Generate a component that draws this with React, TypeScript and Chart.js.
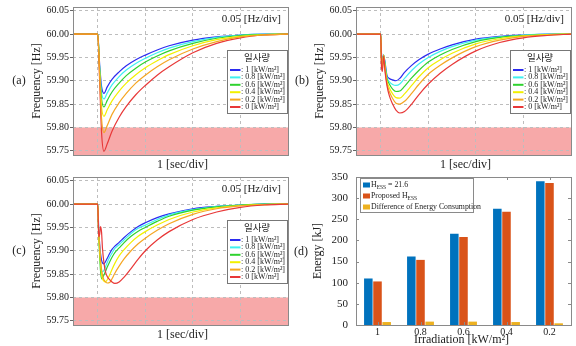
import React, { useEffect, useRef } from 'react';
import { Chart, registerables } from 'chart.js';
Chart.register(...registerables);

const W = 576;
const H = 346;
const SERIF = '"Liberation Serif", "Times New Roman", serif';
const KR = '"Noto Sans CJK KR", "Noto Sans", sans-serif';
const TEXT = '#222222';

// ---------- frequency panels ----------
const LEGEND_TITLE = '일사량';
const IRR_LABELS = [': 1 [kW/m²]', ': 0.8 [kW/m²]', ': 0.6 [kW/m²]', ': 0.4 [kW/m²]', ': 0.2 [kW/m²]', ': 0 [kW/m²]'];
const LINE_COLORS = ['#2b2bf0', '#3ff0f0', '#2fd22f', '#f2f000', '#f5a623', '#e83838'];
const Y_TICKS = [59.75, 59.8, 59.85, 59.9, 59.95, 60.0, 60.05];
const X_GRID = [0, 1, 2, 3, 4];
const BAND_LIMIT = 59.8;
const SCALE_NOTE = '0.05 [Hz/div]';
const X_TITLE = '1 [sec/div]';
const Y_TITLE = 'Frequency [Hz]';

const TIMES_A = [-0.55, 0, 0.04, 0.08, 0.13, 0.2, 0.3, 0.45, 0.6, 0.8, 1.0, 1.25, 1.5, 2.0, 2.5, 3.0, 3.5, 4.0];
const A_1 = [60, 60, 59.935, 59.888, 59.873, 59.887, 59.903, 59.919, 59.932, 59.945, 59.955, 59.966, 59.975, 59.987, 59.994, 59.998, 60, 60];
const A_08 = [60, 60, 59.93, 59.876, 59.861, 59.874, 59.891, 59.909, 59.923, 59.937, 59.948, 59.96, 59.97, 59.984, 59.993, 59.998, 60, 60];
const A_06 = [60, 60, 59.925, 59.862, 59.844, 59.858, 59.876, 59.895, 59.911, 59.927, 59.94, 59.953, 59.964, 59.98, 59.991, 59.997, 59.999, 60];
const A_04 = [60, 60, 59.92, 59.845, 59.824, 59.838, 59.857, 59.878, 59.895, 59.913, 59.928, 59.943, 59.956, 59.975, 59.988, 59.995, 59.999, 60];
const A_02 = [60, 60, 59.91, 59.82, 59.789, 59.804, 59.828, 59.853, 59.873, 59.895, 59.912, 59.93, 59.945, 59.968, 59.984, 59.994, 59.998, 60];
const A_0 = [60, 60, 59.9, 59.79, 59.749, 59.765, 59.792, 59.822, 59.845, 59.87, 59.89, 59.912, 59.93, 59.96, 59.98, 59.992, 59.998, 60];

const TIMES_B = [-0.55, 0, 0.015, 0.035, 0.06, 0.09, 0.13, 0.18, 0.25, 0.32, 0.4, 0.5, 0.65, 0.8, 1.0, 1.25, 1.5, 2.0, 2.5, 3.0, 3.5, 4.0];
const B_1 = [60, 60, 59.96, 59.945, 59.955, 59.94, 59.912, 59.905, 59.902, 59.9, 59.905, 59.918, 59.933, 59.945, 59.957, 59.968, 59.977, 59.989, 59.995, 59.998, 60, 60];
const B_08 = [60, 60, 59.955, 59.94, 59.955, 59.936, 59.908, 59.898, 59.892, 59.89, 59.893, 59.905, 59.922, 59.936, 59.95, 59.963, 59.973, 59.987, 59.994, 59.998, 60, 60];
const B_06 = [60, 60, 59.95, 59.935, 59.955, 59.933, 59.905, 59.893, 59.882, 59.877, 59.878, 59.888, 59.906, 59.922, 59.94, 59.955, 59.967, 59.984, 59.993, 59.997, 59.999, 60];
const B_04 = [60, 60, 59.945, 59.93, 59.955, 59.93, 59.9, 59.885, 59.872, 59.864, 59.863, 59.872, 59.89, 59.908, 59.928, 59.945, 59.959, 59.979, 59.99, 59.996, 59.999, 60];
const B_02 = [60, 60, 59.94, 59.925, 59.955, 59.925, 59.895, 59.877, 59.862, 59.852, 59.85, 59.856, 59.873, 59.892, 59.914, 59.933, 59.949, 59.973, 59.987, 59.995, 59.998, 60];
const B_0 = [60, 60, 59.93, 59.92, 59.953, 59.92, 59.89, 59.868, 59.85, 59.837, 59.831, 59.834, 59.85, 59.87, 59.893, 59.916, 59.935, 59.964, 59.982, 59.992, 59.997, 60];

const TIMES_C = [-0.55, 0, 0.02, 0.04, 0.06, 0.08, 0.1, 0.13, 0.16, 0.2, 0.25, 0.3, 0.36, 0.45, 0.55, 0.7, 0.85, 1.0, 1.25, 1.5, 2.0, 2.5, 3.0, 3.5, 4.0];
const C_1 = [60, 60, 59.95, 59.915, 59.893, 59.88, 59.874, 59.872, 59.876, 59.884, 59.894, 59.903, 59.91, 59.918, 59.928, 59.941, 59.952, 59.96, 59.971, 59.979, 59.99, 59.995, 59.998, 60, 60];
const C_08 = [60, 60, 59.94, 59.9, 59.872, 59.858, 59.855, 59.858, 59.865, 59.875, 59.886, 59.895, 59.905, 59.913, 59.923, 59.937, 59.948, 59.955, 59.967, 59.977, 59.988, 59.995, 59.998, 60, 60];
const C_06 = [60, 60, 59.935, 59.89, 59.855, 59.84, 59.842, 59.848, 59.855, 59.865, 59.876, 59.886, 59.896, 59.906, 59.917, 59.931, 59.942, 59.95, 59.963, 59.974, 59.987, 59.994, 59.998, 60, 60];
const C_04 = [60, 60, 59.935, 59.9, 59.87, 59.85, 59.84, 59.835, 59.833, 59.838, 59.848, 59.86, 59.873, 59.889, 59.902, 59.918, 59.931, 59.941, 59.955, 59.967, 59.983, 59.992, 59.997, 59.999, 60];
const C_02 = [60, 60, 59.94, 59.91, 59.88, 59.86, 59.848, 59.838, 59.834, 59.831, 59.832, 59.84, 59.852, 59.867, 59.882, 59.9, 59.915, 59.927, 59.944, 59.958, 59.978, 59.99, 59.996, 59.999, 60];
const C_0 = [60, 60, 59.93, 59.935, 59.952, 59.94, 59.905, 59.875, 59.856, 59.845, 59.838, 59.833, 59.83, 59.833, 59.843, 59.862, 59.882, 59.9, 59.923, 59.941, 59.967, 59.983, 59.993, 59.998, 60];

// ---------- energy panel ----------
const IRR_CATS = ['1', '0.8', '0.6', '0.4', '0.2'];
const ENERGY_FIXED = [110, 162, 216, 275, 340];
const ENERGY_PROPOSED = [103, 154, 208, 268, 336];
const ENERGY_DIFF = [7, 8, 8, 7, 4];
const ENERGY_COLORS = ['#0072BD', '#D95319', '#EDB120'];
const ENERGY_TICKS = [0, 50, 100, 150, 200, 250, 300, 350];
// legend entries: [text, isSubscript]
const ENERGY_LEGEND: [string, boolean][][] = [
  [['H', false], ['ESS', true], [' = 21.6', false]],
  [['Proposed H', false], ['ESS', true]],
  [['Difference of Energy Consumption', false]],
];
const ENERGY_Y_TITLE = 'Energy [kJ]';
const ENERGY_X_TITLE = 'Irradiation [kW/m²]';

// ---------- layout ----------
const PANELS = [
  { label: '(a)', times: TIMES_A, series: [A_1, A_08, A_06, A_04, A_02, A_0], order: [6, 5, 4, 3, 1, 2], area: { left: 73, top: 7, right: 288, bottom: 155 } },
  { label: '(b)', times: TIMES_B, series: [B_1, B_08, B_06, B_04, B_02, B_0], order: [6, 5, 4, 3, 2, 1], area: { left: 356, top: 7, right: 571, bottom: 155 } },
  { label: '(c)', times: TIMES_C, series: [C_1, C_08, C_06, C_04, C_02, C_0], order: [6, 5, 4, 3, 2, 1], area: { left: 73, top: 177, right: 288, bottom: 325 } },
];
const ENERGY_AREA = { left: 356, top: 177, right: 571, bottom: 325 };
const Y_AXIS_W = 73;

function drawRotated(ctx: CanvasRenderingContext2D, text: string, x: number, y: number, font: string) {
  ctx.save();
  ctx.translate(x, y);
  ctx.rotate(-Math.PI / 2);
  ctx.font = font;
  ctx.fillStyle = TEXT;
  ctx.textAlign = 'center';
  ctx.textBaseline = 'middle';
  ctx.fillText(text, 0, 0);
  ctx.restore();
}

function drawCentered(ctx: CanvasRenderingContext2D, text: string, x: number, y: number, font: string, align: CanvasTextAlign = 'center') {
  ctx.save();
  ctx.font = font;
  ctx.fillStyle = TEXT;
  ctx.textAlign = align;
  ctx.textBaseline = 'middle';
  ctx.fillText(text, x, y);
  ctx.restore();
}

const freqDecor = {
  id: 'freqDecor',
  beforeDraw(chart: any) {
    const { ctx, chartArea: ca, scales } = chart;
    const yb = scales.y.getPixelForValue(BAND_LIMIT);
    ctx.save();
    ctx.fillStyle = '#F7A9A9';
    ctx.fillRect(ca.left, yb, ca.right - ca.left, ca.bottom - yb);
    ctx.restore();
  },
  afterDraw(chart: any, _args: any, opts: any) {
    const { ctx, chartArea: ca } = chart;
    ctx.save();
    ctx.strokeStyle = '#8a8a8a';
    ctx.lineWidth = 1;
    ctx.strokeRect(Math.round(ca.left) + 0.5, Math.round(ca.top) + 0.5, Math.round(ca.right - ca.left), Math.round(ca.bottom - ca.top));
    ctx.restore();

    const midY = (ca.top + ca.bottom) / 2;
    drawCentered(ctx, SCALE_NOTE, ca.right - 7, ca.top + 12, `11px ${SERIF}`, 'right');
    drawRotated(ctx, Y_TITLE, ca.left - 36, midY, `12px ${SERIF}`);
    drawCentered(ctx, opts.label, ca.left - 54, midY, `12px ${SERIF}`);
    drawCentered(ctx, X_TITLE, (ca.left + ca.right) / 2 + 2, ca.bottom + 10, `12px ${SERIF}`);

    // legend box
    const lx = Math.round(ca.right - 61);
    const ly = Math.round(ca.top + 43);
    const lw = 60;
    const lh = 63;
    ctx.save();
    ctx.fillStyle = '#ffffff';
    ctx.fillRect(lx, ly, lw, lh);
    ctx.strokeStyle = '#777777';
    ctx.lineWidth = 1;
    ctx.strokeRect(lx + 0.5, ly + 0.5, lw, lh);
    ctx.restore();
    drawCentered(ctx, LEGEND_TITLE, lx + lw / 2, ly + 7, `9.5px ${KR}`);
    IRR_LABELS.forEach((lab, i) => {
      const yy = ly + 20 + i * 7.4;
      ctx.save();
      ctx.strokeStyle = LINE_COLORS[i];
      ctx.lineWidth = 2;
      ctx.beginPath();
      ctx.moveTo(lx + 3, yy);
      ctx.lineTo(lx + 13.5, yy);
      ctx.stroke();
      ctx.restore();
      drawCentered(ctx, lab, lx + 14, yy, `8px ${SERIF}`, 'left');
    });
  },
};

function freqConfig(p: any): any {
  const datasets = p.series.map((vals: number[], i: number) => ({
    label: IRR_LABELS[i],
    data: p.times.map((t: number, k: number) => ({ x: t, y: vals[k] })),
    borderColor: LINE_COLORS[i],
    backgroundColor: LINE_COLORS[i],
    borderWidth: 1.2,
    pointRadius: 0,
    fill: false,
    cubicInterpolationMode: 'monotone',
    order: p.order[i],
  }));
  const a = p.area;
  return {
    type: 'line',
    data: { datasets },
    options: {
      animation: false,
      responsive: false,
      events: [],
      layout: { padding: { left: a.left - Y_AXIS_W, top: a.top, right: W - a.right, bottom: H - a.bottom - 15 } },
      plugins: { legend: { display: false }, tooltip: { enabled: false }, freqDecor: { label: p.label } },
      scales: {
        x: {
          type: 'linear',
          min: -0.52,
          max: 4,
          afterBuildTicks: (s: any) => { s.ticks = X_GRID.map((v) => ({ value: v })); },
          afterFit: (s: any) => { s.height = 15; },
          ticks: { display: false },
          grid: { color: '#bdbdbd', drawTicks: false },
          border: { display: false, dash: [3, 3] },
        },
        y: {
          type: 'linear',
          min: 59.741,
          max: 60.058,
          afterBuildTicks: (s: any) => { s.ticks = Y_TICKS.map((v) => ({ value: v })); },
          afterFit: (s: any) => { s.width = Y_AXIS_W; },
          ticks: { font: { family: SERIF, size: 10 }, color: TEXT, padding: 1, callback: (v: any) => Number(v).toFixed(2) },
          grid: { color: '#bdbdbd', tickLength: 3, tickColor: '#666', tickBorderDash: [] },
          border: { display: false, dash: [3, 3] },
        },
      },
    },
    plugins: [freqDecor],
  };
}

const energyDecor = {
  id: 'energyDecor',
  afterDraw(chart: any) {
    const { ctx, chartArea: ca, scales } = chart;
    ctx.save();
    ctx.strokeStyle = '#8a8a8a';
    ctx.lineWidth = 1;
    ctx.strokeRect(Math.round(ca.left) + 0.5, Math.round(ca.top) + 0.5, Math.round(ca.right - ca.left), Math.round(ca.bottom - ca.top));
    // inward ticks
    ctx.beginPath();
    ENERGY_TICKS.forEach((v) => {
      const y = Math.round(scales.y.getPixelForValue(v)) + 0.5;
      ctx.moveTo(ca.left, y); ctx.lineTo(ca.left + 3, y);
      ctx.moveTo(ca.right, y); ctx.lineTo(ca.right - 3, y);
    });
    IRR_CATS.forEach((_c, i) => {
      const x = Math.round(scales.x.getPixelForValue(i)) + 0.5;
      ctx.moveTo(x, ca.top); ctx.lineTo(x, ca.top + 3);
      ctx.moveTo(x, ca.bottom); ctx.lineTo(x, ca.bottom - 3);
    });
    ctx.stroke();
    ctx.restore();

    const midY = (ca.top + ca.bottom) / 2;
    drawRotated(ctx, ENERGY_Y_TITLE, ca.left - 38, midY, `12px ${SERIF}`);
    drawCentered(ctx, '(d)', ca.left - 55, midY + 1, `12px ${SERIF}`);
    drawCentered(ctx, ENERGY_X_TITLE, (ca.left + ca.right) / 2 - 2, ca.bottom + 15, `12px ${SERIF}`);

    // legend
    const lx = Math.round(ca.left + 4);
    const ly = Math.round(ca.top + 1);
    const lw = 113;
    const lh = 34;
    ctx.save();
    ctx.fillStyle = '#ffffff';
    ctx.fillRect(lx, ly, lw, lh);
    ctx.strokeStyle = '#8a8a8a';
    ctx.strokeRect(lx + 0.5, ly + 0.5, lw, lh);
    ctx.restore();
    ENERGY_LEGEND.forEach((parts, i) => {
      const yy = ly + 7 + i * 11;
      ctx.save();
      ctx.fillStyle = ENERGY_COLORS[i];
      ctx.fillRect(lx + 3, yy - 2.5, 7, 5);
      let x = lx + 11;
      ctx.fillStyle = TEXT;
      ctx.textAlign = 'left';
      ctx.textBaseline = 'middle';
      parts.forEach(([t, sub]) => {
        ctx.font = sub ? `5.5px ${SERIF}` : `7.8px ${SERIF}`;
        ctx.fillText(t, x, sub ? yy + 2.5 : yy);
        x += ctx.measureText(t).width;
      });
      ctx.restore();
    });
  },
};

function energyConfig(): any {
  const a = ENERGY_AREA;
  const mk = (label: string, data: number[], color: string) => ({
    label,
    data,
    backgroundColor: color,
    borderWidth: 0,
    categoryPercentage: 0.64,
    barPercentage: 0.93,
  });
  return {
    type: 'bar',
    data: {
      labels: IRR_CATS,
      datasets: [
        mk('H_ESS = 21.6', ENERGY_FIXED, ENERGY_COLORS[0]),
        mk('Proposed H_ESS', ENERGY_PROPOSED, ENERGY_COLORS[1]),
        mk('Difference of Energy Consumption', ENERGY_DIFF, ENERGY_COLORS[2]),
      ],
    },
    options: {
      animation: false,
      responsive: false,
      events: [],
      layout: { padding: { left: a.left - Y_AXIS_W, top: a.top, right: W - a.right, bottom: 0 } },
      plugins: { legend: { display: false }, tooltip: { enabled: false } },
      scales: {
        x: {
          afterFit: (s: any) => { s.height = H - a.bottom; },
          ticks: { font: { family: SERIF, size: 10 }, color: TEXT, padding: 1 },
          grid: { display: false, drawTicks: false },
          border: { display: false },
        },
        y: {
          min: 0,
          max: 350,
          afterBuildTicks: (s: any) => { s.ticks = ENERGY_TICKS.map((v) => ({ value: v })); },
          afterFit: (s: any) => { s.width = Y_AXIS_W; },
          ticks: { font: { family: SERIF, size: 11 }, color: TEXT, padding: 8 },
          grid: { display: false, drawTicks: false },
          border: { display: false },
        },
      },
    },
    plugins: [energyDecor],
  };
}

export default function App() {
  const r0 = useRef<HTMLCanvasElement>(null);
  const r1 = useRef<HTMLCanvasElement>(null);
  const r2 = useRef<HTMLCanvasElement>(null);
  const r3 = useRef<HTMLCanvasElement>(null);
  const refs = [r0, r1, r2, r3];

  useEffect(() => {
    const configs = [freqConfig(PANELS[0]), freqConfig(PANELS[1]), freqConfig(PANELS[2]), energyConfig()];
    const charts = configs.map((cfg, i) => new Chart(refs[i].current as HTMLCanvasElement, cfg));
    return () => charts.forEach((c) => c.destroy());
  }, []);

  return (
    <div style={{ position: 'absolute', left: 0, top: 0, width: W, height: H, background: '#ffffff', overflow: 'hidden' }}>
      {refs.map((r, i) => (
        <canvas key={i} ref={r} width={W} height={H} style={{ position: 'absolute', left: 0, top: 0, width: W, height: H }} />
      ))}
    </div>
  );
}
